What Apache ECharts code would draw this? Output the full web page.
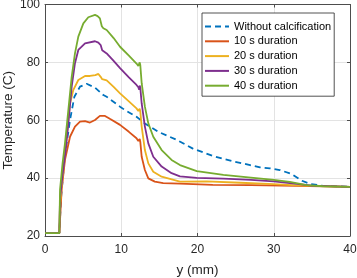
<!DOCTYPE html>
<html>
<head>
<meta charset="utf-8">
<script src="https://cdn.jsdelivr.net/npm/echarts@6/dist/echarts.min.js"></script>
<style>html,body{margin:0;padding:0;background:#fff}#c{width:357px;height:278px}</style>
</head>
<body>
<div id="c"></div>
<script>
var seriesNames = ['Without calcification', '10 s duration', '20 s duration', '30 s duration', '40 s duration'];
var xTicks = [0, 10, 20, 30, 40];
var yTicks = [20, 40, 60, 80, 100];

var noCalc = [[0,21],[1.88,21],[2.1,33],[2.5,45],[2.84,52],[3.28,60.1],[3.85,68.1],[4.59,71.6],[5.46,72.6],[6.56,71.3],[7.65,68.7],[8.09,68.1],[9.84,64.7],[10.5,63.5],[12.0,61.2],[13.1,58.9],[14.86,56.0],[17.3,53.2],[19.4,50.2],[22.1,47.6],[24.7,45.8],[26.9,44.5],[28.2,43.7],[29.5,43.4],[30.8,42.8],[32.35,41.4],[33.7,39.1],[34.75,38.0],[36.5,37.3],[40,37]];
var dur10 = [[0,21],[1.88,21],[2.18,35.9],[2.62,46.3],[3.28,54.3],[3.93,57.8],[4.59,59.5],[5.25,59.7],[5.9,59.2],[6.56,60.1],[7.2,61.5],[7.87,61.5],[8.5,60.5],[9.84,58.4],[11,56],[12.0,53.8],[12.24,52.8],[12.35,52.2],[12.42,53.5],[12.5,52.5],[12.68,47.4],[13.1,42.8],[13.55,39.9],[14.4,38.8],[15.5,38.3],[17.7,38.1],[22,37.7],[27,37.6],[33,37.3],[40,37]];
var dur20 = [[0,21],[1.88,21],[1.97,31],[2.3,40],[2.62,48.6],[3.28,65.8],[3.72,70.5],[4.37,73.9],[5.25,75.3],[5.9,75.3],[6.6,75.6],[7.0,76.0],[7.3,75],[7.5,74.2],[7.65,73.9],[8.09,73.8],[9.0,71.5],[9.84,69.3],[11,66.5],[12.0,64.1],[12.24,63.2],[12.35,62.6],[12.42,64],[12.5,63],[12.68,57.8],[13.1,49.7],[13.55,45.1],[14.2,42.2],[15.3,40.5],[17.7,38.8],[21.2,38.9],[25.6,38.4],[30,37.9],[33,37.5],[40,37]];
var dur30 = [[0,21],[1.88,21],[1.97,33],[2.3,41],[2.71,49.7],[3.06,58.9],[3.5,71.6],[3.93,79.7],[4.37,84.3],[5.25,86.6],[6.56,87.3],[7.0,86.8],[7.3,86.0],[7.5,84.2],[7.65,83.7],[8.09,83.1],[9.0,80.5],[9.84,78.0],[11,74.8],[12.0,72.2],[12.24,71.4],[12.35,70.6],[12.42,72],[12.5,71.2],[12.68,65.8],[13.1,57.8],[13.55,52.0],[14.2,47.4],[15.3,44.0],[16.6,41.7],[17.7,40.6],[19.9,40.1],[23.4,39.8],[27,39.4],[30,38.9],[33,38.0],[35,37.4],[40,37]];
var dur40 = [[0,21],[1.88,21],[1.97,36],[2.3,45],[2.62,52],[3.06,63.5],[3.5,75],[3.93,83.1],[4.37,88.9],[5.03,93.5],[5.68,95.6],[6.56,96.4],[6.9,96.0],[7.2,95.2],[7.45,92.5],[7.65,91.8],[8.09,91.2],[9.0,88.4],[9.84,85.4],[11.0,82.3],[12.0,79.6],[12.24,78.8],[12.35,78.2],[12.42,80],[12.5,79],[12.68,72.8],[13.1,64.7],[13.55,58.9],[14.2,54.3],[15.3,49.7],[16.6,46.3],[17.7,44.5],[19.9,42.4],[23.4,41.1],[27.0,40.2],[30,39.4],[32.1,38.7],[34.3,37.6],[36.5,37.2],[40,37]];

var allData = [noCalc, dur10, dur20, dur30, dur40];
var colors = ['#0072BD', '#D95319', '#EDB120', '#7E2F8E', '#77AC30'];
var FONT = '"Liberation Sans", Arial, Helvetica, sans-serif';
var AX = '#4d4d4d';

var chart = echarts.init(document.getElementById('c'), null, {renderer: 'canvas'});
var series = allData.map(function (d, i) {
  return {
    name: seriesNames[i],
    type: 'line',
    data: d,
    symbol: 'none',
    smooth: false,
    animation: false,
    xAxisIndex: 0, yAxisIndex: 0,
    lineStyle: {color: colors[i], width: 1.8, type: i === 0 ? [6, 4] : 'solid'},
    itemStyle: {color: colors[i]}
  };
});

function xAx(pos, labels) {
  return {
    type: 'value', position: pos, min: xTicks[0], max: xTicks[xTicks.length - 1], interval: 10,
    axisLine: {show: true, onZero: false, lineStyle: {color: AX, width: 1}},
    axisTick: {show: true, inside: true, length: 3, lineStyle: {color: AX}},
    splitLine: {show: labels, lineStyle: {color: '#e3e3e3', width: 1}},
    axisLabel: {show: labels, fontSize: 12, color: '#262626', fontFamily: FONT, margin: 8},
    name: labels ? 'y (mm)' : '', nameLocation: 'middle', nameGap: 27, nameMoveOverlap: false,
    nameTextStyle: {fontSize: 13.5, color: '#262626', fontFamily: FONT}
  };
}
function yAx(pos, labels) {
  return {
    type: 'value', position: pos, min: yTicks[0], max: yTicks[yTicks.length - 1], interval: 20,
    axisLine: {show: true, onZero: false, lineStyle: {color: AX, width: 1}},
    axisTick: {show: true, inside: true, length: 3, lineStyle: {color: AX}},
    splitLine: {show: labels, lineStyle: {color: '#e3e3e3', width: 1}},
    axisLabel: {show: labels, fontSize: 12, color: '#262626', fontFamily: FONT, margin: 5},
    name: labels ? 'Temperature (C)' : '', nameLocation: 'middle', nameGap: 30, nameMoveOverlap: false,
    nameTextStyle: {fontSize: 13.5, color: '#262626', fontFamily: FONT}
  };
}

chart.setOption({
  backgroundColor: '#fff',
  animation: false,
  grid: {left: 45, top: 4.5, right: 7, bottom: 42, containLabel: false, outerBoundsMode: 'none'},
  xAxis: [xAx('bottom', true), xAx('top', false)],
  yAxis: [yAx('left', true), yAx('right', false)],
  legend: {
    orient: 'vertical', left: 202, top: 13,
    itemWidth: 24, itemHeight: 10, itemGap: 3.8,
    padding: [8, 3, 5, 2],
    borderColor: '#262626', borderWidth: 0.8, backgroundColor: '#fff',
    itemStyle: {color: 'transparent', borderColor: 'transparent', borderWidth: 0, opacity: 0},
    textStyle: {fontSize: 11, color: '#000', fontFamily: FONT, width: 99, overflow: 'none'},
    data: seriesNames
  },
  series: series
});
</script>
</body>
</html>
